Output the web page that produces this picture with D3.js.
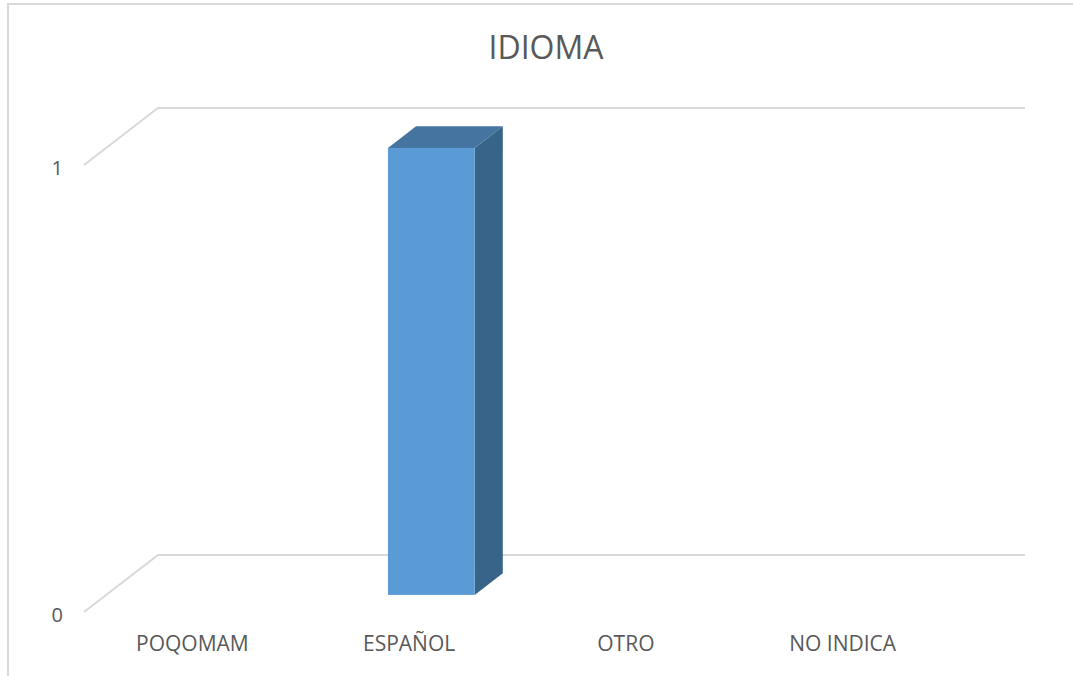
<!doctype html>
<html>
<head>
	<meta charset="utf-8">
	<title>IDIOMA</title>
	<script src="https://cdnjs.cloudflare.com/ajax/libs/d3/7.8.5/d3.min.js"></script>
	<style>
		body { margin: 0; background: #fff; }
		text { font-family: "Open Sans", sans-serif; fill: #595959; }
	</style>
</head>
<body>
	<script>
		// chart data
		var categories = ['POQOMAM', 'ESPAÑOL', 'OTRO', 'NO INDICA'];
		var values = [0, 1, 0, 0];
		var yTicks = [0, 1];
		var title = 'IDIOMA';

		var width = 1073, height = 676;

		var svg = d3.select('body').append('svg')
			.attr('width', width)
			.attr('height', height);

		// chart area border (only left and top are visible)
		svg.append('path')
			.attr('d', 'M8,676 V4 H1073')
			.attr('fill', 'none')
			.attr('stroke', '#d9d9d9')
			.attr('stroke-width', 2);

		svg.append('text')
			.attr('x', 546)
			.attr('y', 59)
			.attr('text-anchor', 'middle')
			.style('font-size', '32px')
			.text(title);

		// front plane scales, depth vector goes to the back wall
		var x = d3.scaleBand().domain(categories).range([84, 951]);
		var y = d3.scaleLinear().domain([0, 1]).range([612, 165]);
		var depth = { dx: 74, dy: -57 };

		// gridlines: diagonal on side wall + line along back wall
		var grid = svg.append('g');
		yTicks.forEach(function (t) {
			var y0 = y(t);
			grid.append('path')
				.attr('d', 'M' + x.range()[0] + ',' + y0 +
					' L' + (x.range()[0] + depth.dx) + ',' + (y0 + depth.dy) +
					' L' + (x.range()[1] + depth.dx) + ',' + (y0 + depth.dy))
				.attr('fill', 'none')
				.attr('stroke', '#d9d9d9')
				.attr('stroke-width', 2);
			grid.append('text')
				.attr('x', 63)
				.attr('y', y0 + 2)
				.attr('text-anchor', 'end')
				.attr('dominant-baseline', 'central')
				.style('font-size', '20px')
				.text(t);
		});

		// 3d bars
		var d0 = 0.3, d1 = 0.68;   // bar depth as share of the floor
		var barShare = 0.4;
		var bars = svg.append('g');
		categories.forEach(function (c, i) {
			var v = values[i];
			if (!v) return;
			var bw = x.bandwidth() * barShare;
			var fx = x(c) + (x.bandwidth() - bw) / 2 + depth.dx * d0;
			var fyTop = y(v) + depth.dy * d0;
			var fyBot = y(0) + depth.dy * d0;
			var ox = depth.dx * (d1 - d0), oy = depth.dy * (d1 - d0);

			// side
			bars.append('path')
				.attr('d', 'M' + (fx + bw) + ',' + fyTop + ' l' + ox + ',' + oy +
					' L' + (fx + bw + ox) + ',' + (fyBot + oy) + ' L' + (fx + bw) + ',' + fyBot + 'Z')
				.attr('fill', '#386489');
			// top
			bars.append('path')
				.attr('d', 'M' + fx + ',' + fyTop + ' l' + ox + ',' + oy +
					' h' + bw + ' L' + (fx + bw) + ',' + fyTop + 'Z')
				.attr('fill', '#44749f');
			// front
			bars.append('rect')
				.attr('x', fx)
				.attr('y', fyTop)
				.attr('width', bw)
				.attr('height', fyBot - fyTop)
				.attr('fill', '#5b9bd5');
		});

		// category labels
		svg.append('g').selectAll('text')
			.data(categories)
			.enter()
			.append('text')
			.attr('x', function (d) { return x(d) + x.bandwidth() / 2; })
			.attr('y', 651)
			.attr('text-anchor', 'middle')
			.style('font-size', '21px')
			.text(function (d) { return d; });
	</script>
</body>
</html>
